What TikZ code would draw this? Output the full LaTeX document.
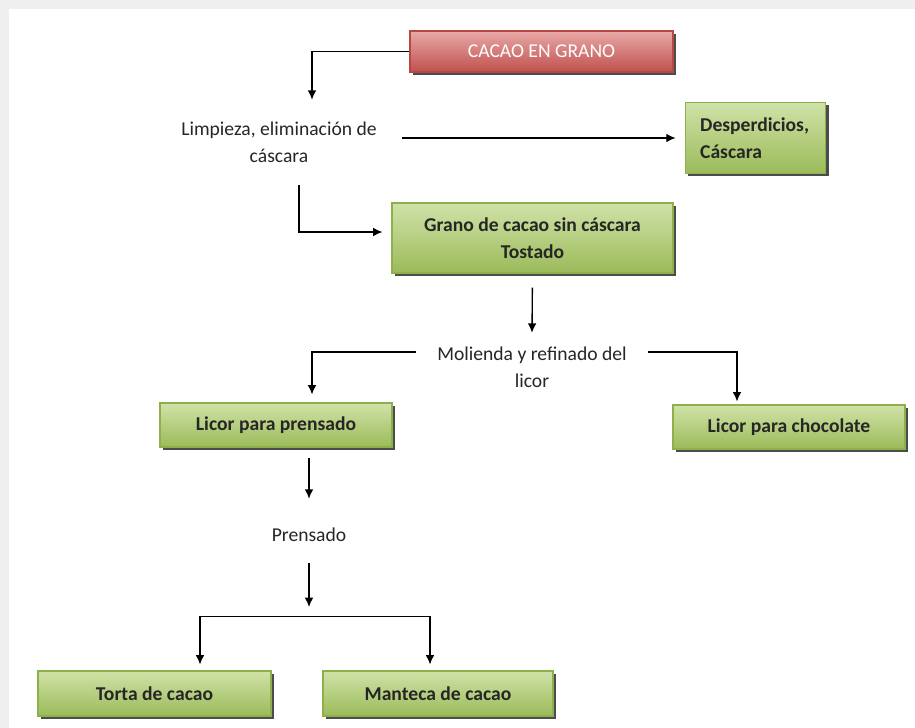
\documentclass[tikz,border=0pt]{standalone}
\usepackage{fontspec}
\setmainfont{Carlito}
\usepackage{tikz}
\usepackage{xcolor}
\usetikzlibrary{positioning,shapes,shadows,arrows,arrows.meta,calc}

\definecolor{verdearriba}{HTML}{D0E2A8}
\definecolor{verdeabajo}{HTML}{9BBB59}
\definecolor{verdeborde}{HTML}{8DB04A}
\definecolor{rojoarriba}{HTML}{E8A9A7}
\definecolor{rojoabajo}{HTML}{C0504D}
\definecolor{rojoborde}{HTML}{B84744}
\definecolor{marco}{HTML}{EFEFEF}

\begin{document}
\begin{tikzpicture}[x=0.75pt,y=-0.75pt]
\tikzstyle{every node}+=[inner sep=0pt,font=\fontsize{14.7}{20}\selectfont]
\tikzstyle{caja}=[draw=verdeborde,line width=0.8pt,top color=verdearriba,bottom color=verdeabajo,align=center,font=\fontsize{14.7}{20}\selectfont\bfseries,text=black!85,drop shadow={shadow xshift=2.2pt,shadow yshift=-2.2pt,fill=black!70,opacity=1}]
\tikzstyle{texto}=[align=center,text=black!85]
\tikzstyle{flecha}=[->,>={Latex[length=7pt,width=6.5pt]},line width=1pt,black]
\fill [marco] (0,0) rectangle (915,728);
\fill [white] (9,9) rectangle (915,728);
\node [caja,top color=rojoarriba,bottom color=rojoabajo,draw=rojoborde,text=white,font=\fontsize{14.7}{20}\selectfont,minimum width=197.25pt,minimum height=30.75pt] (cacao) at (541.5,51.5) {CACAO EN GRANO};
\node [texto,minimum width=184.5pt,minimum height=63.75pt] (limpieza) at (279,142.5) {Limpieza, eliminación de\\cáscara};
\node [caja,align=left,text width=83pt,inner xsep=11.25pt,minimum height=53.25pt] (desperd) at (755.5,138) {Desperdicios,\\Cáscara};
\node [caja,minimum width=210.75pt,minimum height=52.5pt] (grano) at (532.5,238) {Grano de cacao sin cáscara\\Tostado};
\node [texto,minimum width=174pt,minimum height=51pt] (molienda) at (532,367) {Molienda y refinado del\\licor};
\node [caja,minimum width=174pt,minimum height=33pt] (prensa) at (276,425) {Licor para prensado};
\node [caja,minimum width=174pt,minimum height=33pt] (chocolate) at (789,427) {Licor para chocolate};
\node [texto,minimum width=60pt,minimum height=54pt] (prensado) at (309,535) {Prensado};
\coordinate (division) at (309,607);
\node [caja,minimum width=174.75pt,minimum height=33.75pt] (torta) at (154.5,693.5) {Torta de cacao};
\node [caja,minimum width=172.5pt,minimum height=33.75pt] (manteca) at (438,693.5) {Manteca de cacao};
\draw [flecha] (cacao.west) -| ($(limpieza.north)+(33,0)$);
\draw [flecha,shorten >=6.75pt] ($(limpieza.east)+(0,-4.5)$) -- (desperd.west);
\draw [flecha,shorten >=6.75pt] ($(limpieza.south)+(20,0)$) |- ($(grano.west)+(0,-6)$);
\draw [flecha,shorten <=10.5pt] (grano.south) -- (molienda.north);
\draw [flecha,shorten >=6pt] ($(molienda.west)+(0,-15)$) -| ($(prensa.north)+(36,0)$);
\draw [flecha,shorten >=2.25pt] ($(molienda.east)+(0,-15)$) -| ($(chocolate.north)+(-52,0)$);
\draw [flecha,shorten <=7.5pt] ($(prensa.south)+(33,0)$) -- (prensado.north);
\draw [flecha] ($(prensado.south)+(0,-8)$) -- (division);
\draw [flecha,<->,shorten <=4.5pt,shorten >=4.5pt] ($(torta.north)+(45.5,0)$) |- ($(manteca.north)+(-8,-54)$) -- ($(manteca.north)+(-8,0)$);
\end{tikzpicture}
\end{document}
